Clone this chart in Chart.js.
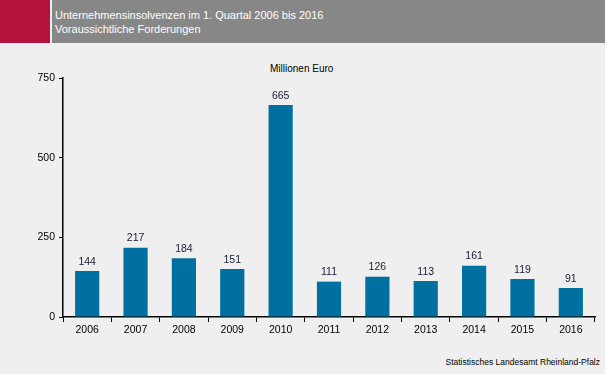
<!DOCTYPE html>
<html>
<head>
<meta charset="utf-8">
<script src="https://cdn.jsdelivr.net/npm/chart.js@4/dist/chart.umd.min.js"></script>
<style>
  body { margin:0; width:605px; height:374px; background:#eeefee; font-family:"Liberation Sans", Arial, sans-serif; position:relative; overflow:hidden; }
  #red { position:absolute; left:0; top:0; width:50px; height:43px; background:#b5123e; }
  #head { position:absolute; left:52px; top:0; width:553px; height:43px; background:#878787; color:#fff; font-size:11px; }
  #head div { position:absolute; left:3px; }
  #unit { position:absolute; top:63px; left:270px; font-size:10px; color:#000; }
  #src { position:absolute; top:357px; right:5px; font-size:8.5px; color:#000; }
  #wrap { position:absolute; left:0; top:43px; width:605px; height:331px; }
</style>
</head>
<body>
<div id="red"></div>
<div id="head"><div style="top:9px">Unternehmensinsolvenzen im 1. Quartal 2006 bis 2016</div><div style="top:23px">Voraussichtliche Forderungen</div></div>
<div id="unit">Millionen Euro</div>
<div id="src">Statistisches Landesamt Rheinland-Pfalz</div>
<div id="wrap"><canvas id="chart" width="605" height="331"></canvas></div>
<script>
const years = ["2006","2007","2008","2009","2010","2011","2012","2013","2014","2015","2016"];
const values = [144, 217, 184, 151, 665, 111, 126, 113, 161, 119, 91];
const yTicks = [0, 250, 500, 750];

const labelPlugin = {
  id: 'barLabels',
  afterDatasetsDraw(chart) {
    const ctx = chart.ctx;
    const meta = chart.getDatasetMeta(0);
    ctx.save();
    ctx.font = '10.5px "Liberation Sans", Arial, sans-serif';
    ctx.fillStyle = '#1a1a33';
    ctx.textAlign = 'center';
    ctx.textBaseline = 'bottom';
    meta.data.forEach((bar, i) => {
      ctx.fillText(values[i], bar.x, bar.y - 4);
    });
    ctx.restore();
  }
};

new Chart(document.getElementById('chart'), {
  type: 'bar',
  data: {
    labels: years,
    datasets: [{
      data: values,
      backgroundColor: '#0070a0',
      categoryPercentage: 1,
      barPercentage: 0.5
    }]
  },
  options: {
    responsive: false,
    animation: false,
    layout: { padding: { top: 35, right: 10, left: 0, bottom: 0 } },
    plugins: { legend: { display: false }, tooltip: { enabled: false } },
    scales: {
      x: {
        afterFit(s) { s.height = 57; },
        grid: { offset: true, drawOnChartArea: false, color: '#000', tickLength: 5 },
        border: { color: '#000', width: 1.5 },
        ticks: { color: '#000', font: { size: 10.5, family: '"Liberation Sans", Arial' }, padding: 2 }
      },
      y: {
        min: 0, max: 750,
        afterFit(s) { s.width = 63; },
        afterBuildTicks(s) { s.ticks = yTicks.map(v => ({ value: v })); },
        grid: { drawOnChartArea: false, color: '#000', tickLength: 4 },
        border: { color: '#000', width: 1.5 },
        ticks: { color: '#000', font: { size: 10.5, family: '"Liberation Sans", Arial' }, padding: 4 }
      }
    }
  },
  plugins: [labelPlugin]
});
</script>
</body>
</html>
